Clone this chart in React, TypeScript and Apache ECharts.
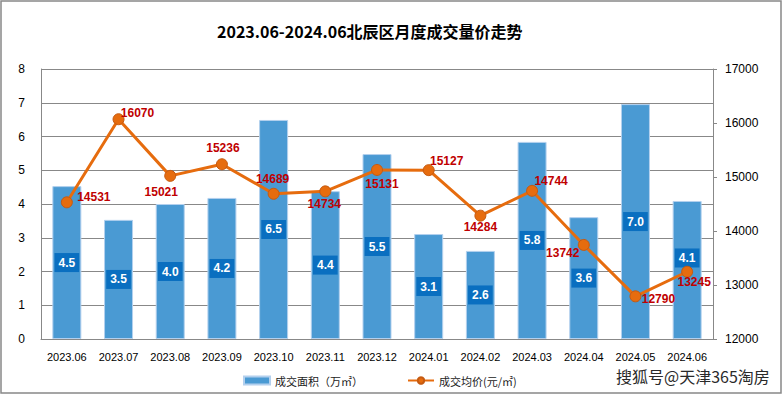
import React, { useEffect, useRef } from "react";
import * as echarts from "echarts";

const months = ["2023.06","2023.07","2023.08","2023.09","2023.10","2023.11","2023.12","2024.01","2024.02","2024.03","2024.04","2024.05","2024.06"];
const areaValues = [4.53, 3.53, 4.0, 4.18, 6.49, 4.38, 5.48, 3.11, 2.61, 5.84, 3.61, 6.96, 4.09];
const areaLabels = ["4.5","3.5","4.0","4.2","6.5","4.4","5.5","3.1","2.6","5.8","3.6","7.0","4.1"];
const priceValues = [14531, 16070, 15021, 15236, 14689, 14734, 15131, 15127, 14284, 14744, 13742, 12790, 13245];
const leftTicks = { min: 0, max: 8, interval: 1 };
const rightTicks = { min: 12000, max: 17000, interval: 1000 };

// label offsets (style) for labels
const priceLabelOffsets: [number, number][] = [
  [27, -5], [19, -6], [-9, 16], [1, -16], [-1, -15], [-1, 13], [5, 14],
  [18, -9], [0, 11], [19, -10], [-21, 8], [23, 3], [7, 10],
];
const areaLabelOffsets: [number, number][] = [
  [0, 0], [0, 0], [0, 0], [0, 0], [0, 0], [0, 0], [0, 0],
  [0, 0], [0, 0], [0, 0], [0, 0], [0, 0], [0, -12],
];

export default function App() {
  const ref = useRef<HTMLDivElement>(null);
  useEffect(() => {
    document.body.style.margin = "0";
    const chart = echarts.init(ref.current!, undefined, { renderer: "svg" });
    const font = "Liberation Sans, Arial, sans-serif";
    chart.setOption({
      animation: false,
      backgroundColor: "#fff",
      title: {
        text: "2023.06-2024.06北辰区月度成交量价走势",
        left: 212,
        top: 18,
        textStyle: { fontFamily: "Noto Sans CJK SC", fontWeight: "bold", fontSize: 16, color: "#000" },
      },
      legend: {
        left: 238,
        top: 370,
        itemGap: 44,
        itemWidth: 26,
        itemHeight: 8,
        textStyle: { fontFamily: "Noto Sans CJK SC", fontSize: 11, color: "#222" },
        data: [
          { name: "成交面积（万㎡）", icon: "rect" },
          { name: "成交均价(元/㎡)" },
        ],
      },
      grid: { left: 41, right: 70, top: 69, bottom: 56, containLabel: false },
      xAxis: {
        type: "category",
        data: months,
        axisLine: { lineStyle: { color: "#888", width: 1 } },
        axisTick: { show: false },
        axisLabel: { color: "#000", fontSize: 11, fontFamily: font, margin: 12 },
      },
      yAxis: [
        {
          type: "value",
          ...leftTicks,
          axisLine: { show: true, lineStyle: { color: "#888" } },
          axisTick: { show: false },
          axisLabel: { color: "#000", fontSize: 12, fontFamily: font, margin: 16 },
          splitLine: { lineStyle: { color: "#888", width: 1 } },
        },
        {
          type: "value",
          ...rightTicks,
          position: "right",
          axisLine: { show: true, lineStyle: { color: "#888" } },
          axisTick: { show: true, length: 4, lineStyle: { color: "#888" } },
          axisLabel: { color: "#000", fontSize: 12, fontFamily: font, margin: 12, formatter: (v: number) => String(v) },
          splitLine: { show: false },
        },
      ],
      series: [
        {
          name: "成交面积（万㎡）",
          type: "bar",
          barWidth: 29,
          data: areaValues.map((v, i) => ({
            value: v,
            label: { formatter: areaLabels[i], offset: areaLabelOffsets[i] },
          })),
          itemStyle: { color: "#4a9ad3", borderColor: "#b3d0ee", borderWidth: 1 },
          label: {
            show: true,
            position: "inside",
            color: "#fff",
            backgroundColor: "#0a6fc0",
            padding: [4, 4, 3, 4],
            fontSize: 12,
            fontFamily: font,
            fontWeight: "bold",
          },
        },
        {
          name: "成交均价(元/㎡)",
          type: "line",
          yAxisIndex: 1,
          data: priceValues.map((v, i) => ({
            value: v,
            label: { offset: priceLabelOffsets[i] },
          })),
          lineStyle: { color: "#e66c0e", width: 3 },
          itemStyle: { color: "#e66c0e", borderColor: "#c55a11", borderWidth: 1 },
          symbol: "circle",
          symbolSize: 11,
          label: {
            show: true,
            position: "inside",
            align: "center",
            verticalAlign: "middle",
            color: "#c00000",
            fontWeight: "bold",
            fontSize: 12,
            fontFamily: font,
          },
          z: 5,
        },
      ],
      graphic: [
        {
          type: "rect",
          shape: { x: 1, y: 1, width: 780, height: 392 },
          style: { fill: "none", stroke: "#888", lineWidth: 1.5 },
          silent: true,
        },
        {
          type: "text",
          left: 616,
          top: 368,
          style: {
            text: "搜狐号@天津365淘房",
            fontFamily: "Noto Sans CJK SC",
            fontSize: 16,
            fill: "#2a2a2a",
          },
        },
      ],
    });
    return () => chart.dispose();
  }, []);
  return <div ref={ref} style={{ width: 783, height: 395 }} />;
}
